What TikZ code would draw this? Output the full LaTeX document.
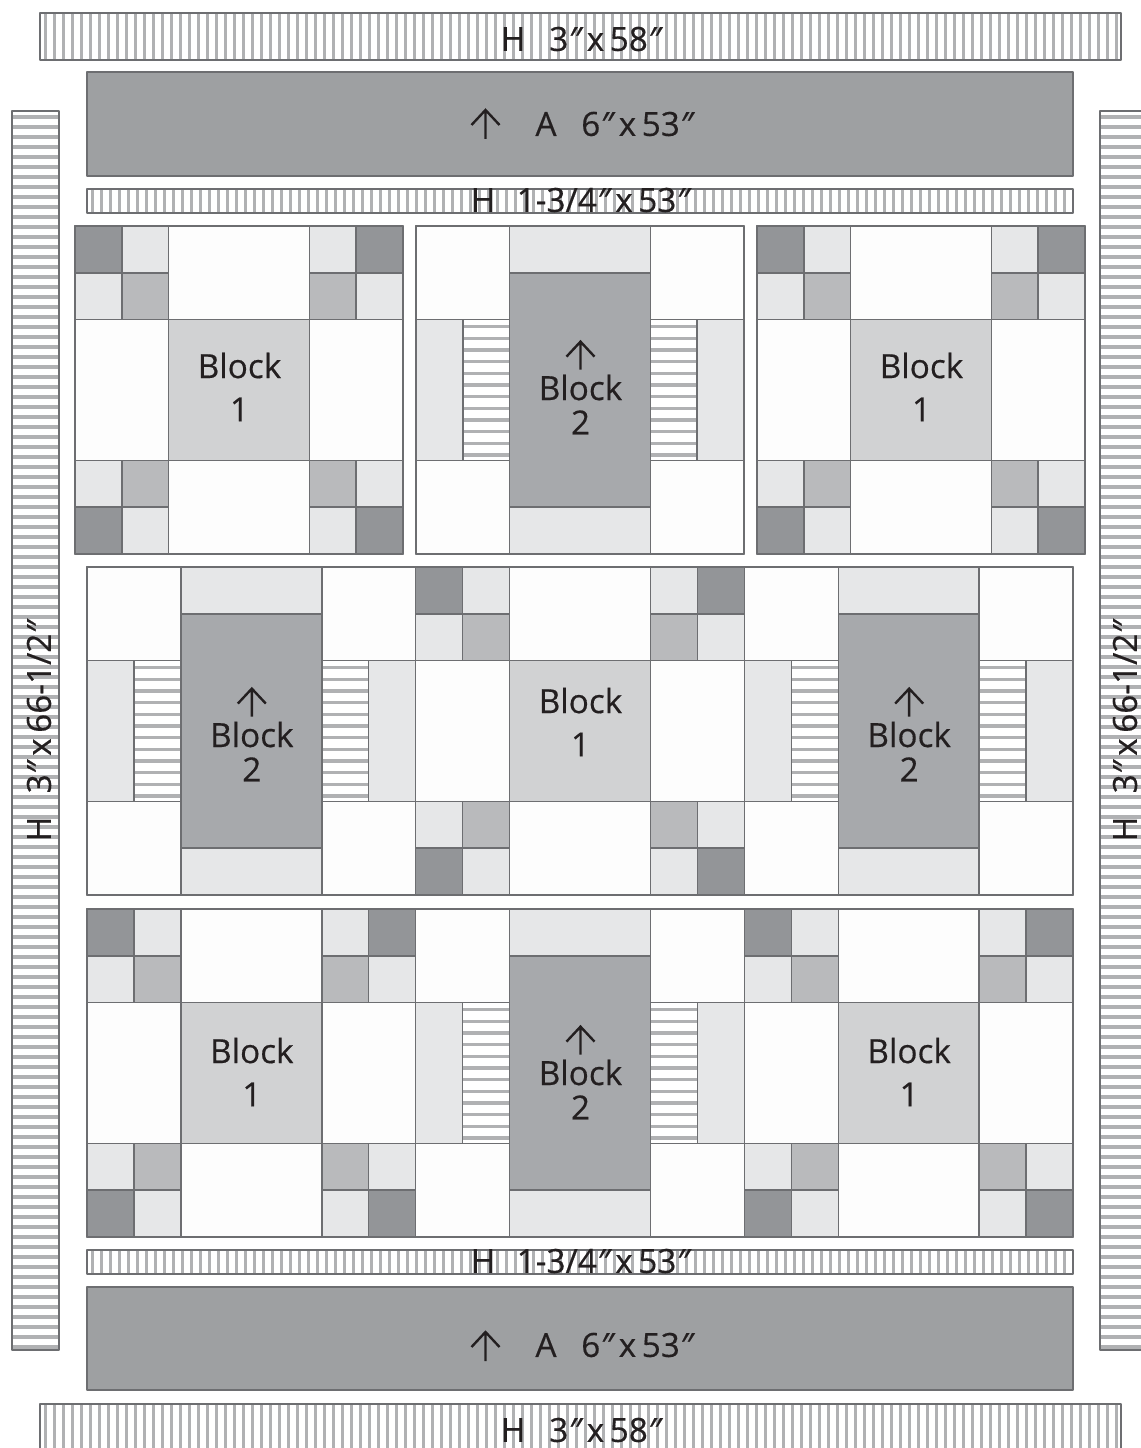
\documentclass[tikz,border=0pt]{standalone}
\usepackage{fontspec}
\setmainfont{Open Sans}
\definecolor{qdark}{HTML}{939598}
\definecolor{qmid}{HTML}{B9BABC}
\definecolor{qlight}{HTML}{E6E7E8}
\definecolor{qwhite}{HTML}{FDFDFD}
\definecolor{qcenter}{HTML}{D1D2D3}
\definecolor{qtwo}{HTML}{A7A9AC}
\definecolor{qborder}{HTML}{9EA0A2}
\definecolor{qedge}{HTML}{6D6E71}
\definecolor{qstripe}{HTML}{B0B1B3}
\definecolor{qtext}{HTML}{231F20}
\newcommand{\qq}{{\itshape\char"2033\relax}}
\newcommand{\qx}{0.997}
\tikzset{
  patch/.style={draw=qedge,line width=1.1pt,line join=round},
  blockedge/.style={draw=qedge,line width=1.1pt,line join=round},
  stripe/.style={draw=qstripe,line width=2.4pt},
  lbl/.style={inner sep=0pt,text=qtext,font=\fontsize{25}{25}\selectfont\addfontfeature{FakeBold=0.4}},
  striplbl/.style={inner sep=0pt,text=qtext,font=\fontsize{25}{25}\selectfont\addfontfeature{FakeBold=0.4}},
  uparrow/.style={draw=qtext,line width=1.8pt},
}
\newcommand{\hstripes}[5]{%
  \fill[white] (#1,#2) rectangle (#3,#4);
  \begin{scope}
  \clip (#1,#2) rectangle (#3,#4);
  \pgfmathtruncatemacro{\qn}{(#4-#2)/#5}
  \foreach \qi in {0,...,\qn}{
    \draw[stripe] (#1,{#2+(\qi+0.6)*#5}) -- (#3,{#2+(\qi+0.6)*#5});
  }
  \end{scope}
  \draw[patch] (#1,#2) rectangle (#3,#4);
}
\newcommand{\vstripes}[5]{%
  \fill[white] (#1,#2) rectangle (#3,#4);
  \begin{scope}
  \clip (#1,#2) rectangle (#3,#4);
  \pgfmathtruncatemacro{\qn}{(#3-#1)/#5}
  \foreach \qi in {0,...,\qn}{
    \draw[stripe] ({#1+(\qi+0.6)*#5},#2) -- ({#1+(\qi+0.6)*#5},#4);
  }
  \end{scope}
  \draw[patch] (#1,#2) rectangle (#3,#4);
}
\newcommand{\cell}[6]{\path[patch,fill=#1] (#2,#3) rectangle ++(#4,#5);}
\newcommand{\fourpatch}[4]{%
  \begin{scope}[shift={(#1,#2)}]
  \ifnum#3=0 \cell{qdark}{0}{0}{47}{47}{} \else \cell{qlight}{0}{0}{47}{47}{} \fi
  \ifnum#3=1 \cell{qdark}{47}{0}{47}{47}{} \else\ifnum#3=2 \cell{qmid}{47}{0}{47}{47}{} \else \cell{qlight}{47}{0}{47}{47}{} \fi\fi
  \ifnum#3=2 \cell{qdark}{0}{47}{47}{47}{} \else\ifnum#3=1 \cell{qmid}{0}{47}{47}{47}{} \else \cell{qlight}{0}{47}{47}{47}{} \fi\fi
  \ifnum#3=3 \cell{qdark}{47}{47}{47}{47}{} \else\ifnum#3=0 \cell{qmid}{47}{47}{47}{47}{} \else \cell{qlight}{47}{47}{47}{47}{} \fi\fi
  \ifnum#3=3 \cell{qmid}{0}{0}{47}{47}{} \fi
  \end{scope}
}
% x, y, id, label shift
\newcommand{\blockone}[4]{%
  \begin{scope}[shift={(#1,#2)},xscale=\qx,yscale=0.997]
  \fourpatch{0}{0}{0}{}
  \fourpatch{235}{0}{1}{}
  \fourpatch{0}{235}{2}{}
  \fourpatch{235}{235}{3}{}
  \cell{qwhite}{94}{0}{141}{94}{}
  \cell{qwhite}{94}{235}{141}{94}{}
  \cell{qwhite}{0}{94}{94}{141}{}
  \cell{qwhite}{235}{94}{94}{141}{}
  \cell{qcenter}{94}{94}{141}{141}{}
  \draw[blockedge] (0,0) rectangle (329,329);
  \node[lbl] (#3a) at (165,140+#4) {Block};
  \node[lbl] (#3b) at (165,184+#4) {1};
  \end{scope}
}
\newcommand{\blocktwo}[4]{%
  \begin{scope}[shift={(#1,#2)},xscale=\qx,yscale=0.997]
  \cell{qwhite}{0}{0}{94}{94}{}
  \cell{qwhite}{235}{0}{94}{94}{}
  \cell{qwhite}{0}{235}{94}{94}{}
  \cell{qwhite}{235}{235}{94}{94}{}
  \cell{qlight}{94}{0}{141}{47}{}
  \cell{qlight}{94}{282}{141}{47}{}
  \cell{qtwo}{94}{47}{141}{235}{}
  \cell{qlight}{0}{94}{47}{141}{}
  \cell{qlight}{282}{94}{47}{141}{}
  \hstripes{47}{94}{94}{235}{11.7}
  \hstripes{235}{94}{282}{235}{11.7}
  \draw[blockedge] (0,0) rectangle (329,329);
  \coordinate (#3t) at (165,116+#4);
  \coordinate (#3h) at (165,144+#4);
  \coordinate (#3l) at (151,131+#4);
  \coordinate (#3r) at (179,131+#4);
  \draw[uparrow] (#3h) -- (#3t) (#3l) -- (#3t) -- (#3r);
  \node[lbl] (#3a) at (165,162+#4) {Block};
  \node[lbl] (#3b) at (165,197+#4) {2};
  \end{scope}
}
\begin{document}
\begin{tikzpicture}[x=0.75pt,y=-0.75pt]
\useasboundingbox (0,0) rectangle (1140,1448);
\fill[white] (0,0) rectangle (1140,1448);
\vstripes{40}{13}{1121}{60}{9}
\vstripes{40}{1404}{1121}{1470}{9}
\hstripes{12}{111}{59}{1350}{10}
\hstripes{1100}{111}{1170}{1350}{10}
\vstripes{87}{189}{1073}{213}{9}
\vstripes{87}{1250}{1073}{1274}{9}
\path[patch,fill=qborder] (87,72) rectangle (1073,176);
\path[patch,fill=qborder] (87,1287) rectangle (1073,1390);
\blockone{75}{226}{ba}{0}
\blocktwo{416}{226}{bb}{0}
\blockone{757}{226}{bc}{0}
\renewcommand{\qx}{0.999}
\blocktwo{87}{567}{bd}{6}
\blockone{415.67}{567}{be}{-6}
\blocktwo{744.33}{567}{bf}{6}
\blockone{87}{909}{bg}{2}
\blocktwo{415.67}{909}{bh}{2}
\blockone{744.33}{909}{bi}{2}
\node[striplbl] (ht1) at (513,39) {H};
\node[striplbl] (ht2) at (605,39) {3\qq\,x\,58\qq};
\node[striplbl] (hb1) at (513,1430) {H};
\node[striplbl] (hb2) at (605,1430) {3\qq\,x\,58\qq};
\node[striplbl] (hs1) at (483,200) {H};
\node[striplbl] (hs2) at (603,200) {1-3/4\qq\,x\,53\qq};
\node[striplbl] (hs3) at (483,1261) {H};
\node[striplbl] (hs4) at (603,1261) {1-3/4\qq\,x\,53\qq};
\node[striplbl] (at1) at (546,124) {A};
\node[striplbl] (at2) at (637,124) {6\qq\,x\,53\qq};
\node[striplbl] (ab1) at (546,1345) {A};
\node[striplbl] (ab2) at (637,1345) {6\qq\,x\,53\qq};
\coordinate (att) at (485.5,110); \coordinate (ath) at (485.5,139);
\coordinate (atl) at (471.5,125); \coordinate (atr) at (499.5,125);
\draw[uparrow] (ath) -- (att) (atl) -- (att) -- (atr);
\coordinate (abt) at (485.5,1332); \coordinate (abh) at (485.5,1361);
\coordinate (abl) at (471.5,1347); \coordinate (abr) at (499.5,1347);
\draw[uparrow] (abh) -- (abt) (abl) -- (abt) -- (abr);
\node[striplbl,rotate=90] (vl1) at (39,829) {H};
\node[striplbl,rotate=90] (vl2) at (39,707) {3\qq\,x\,66-1/2\qq};
\node[striplbl,rotate=90] (vr1) at (1125,829) {H};
\node[striplbl,rotate=90] (vr2) at (1125,707) {3\qq\,x\,66-1/2\qq};
\end{tikzpicture}
\end{document}
